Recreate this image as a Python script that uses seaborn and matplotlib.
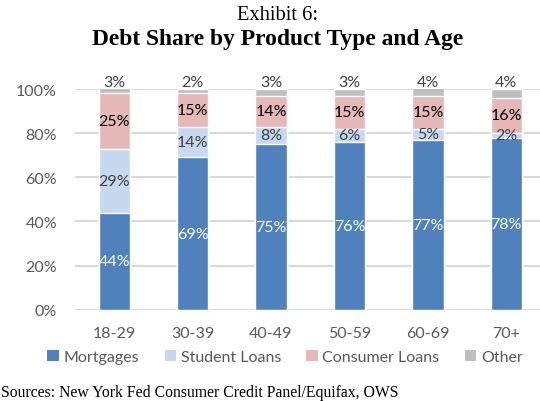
import matplotlib
matplotlib.use("Agg")
import matplotlib.pyplot as plt
import seaborn as sns
import numpy as np
import pandas as pd
from matplotlib.patches import Patch

# Debt shares (%) by age group
age_groups = ["18-29", "30-39", "40-49", "50-59", "60-69", "70+"]
mortgages = [44, 69, 75, 76, 77, 78]
student_loans = [29, 14, 8, 6, 5, 2]
consumer_loans = [25, 15, 14, 15, 15, 16]
other = [3, 2, 3, 3, 4, 4]

series_names = ["Mortgages", "Student Loans", "Consumer Loans", "Other"]
series_colors = ["#4F81BD", "#C6D9F1", "#E6B9B8", "#BFBFBF"]
label_colors = ["white", "#404040", "black", "#404040"]

sns.set_theme(style="white")
plt.rcParams["font.family"] = ["Lato", "DejaVu Sans"]

layers = np.array([mortgages, student_loans, consumer_loans, other], dtype=float)
tops = np.cumsum(layers, axis=0)
bottoms = tops - layers

fig = plt.figure(figsize=(5.4, 4.02), dpi=100)
ax = fig.add_axes([75 / 540, (402 - 310.7) / 402, (545.5 - 75) / 540, 220.7 / 402])

# stacked bars: draw cumulative heights from the top layer down
for i in range(3, -1, -1):
    df = pd.DataFrame({"age": age_groups, "share": tops[i]})
    sns.barplot(data=df, x="age", y="share", color=series_colors[i],
                saturation=1, width=0.4, ax=ax, zorder=2)

# value labels
for i in range(4):
    for j, age in enumerate(age_groups):
        val = layers[i, j]
        if i == 3:
            y = 100.2
            va = "bottom"
        else:
            y = bottoms[i, j] + val / 2
            va = "center"
        ax.text(j, y, f"{int(val)}%", ha="center", va=va, fontsize=11.5,
                color=label_colors[i], zorder=5)

ax.set_ylim(0, 100)
ax.set_xlim(-0.5, 5.5)
ax.set_yticks(range(0, 101, 20))
ax.set_yticklabels([f"{v}%" for v in range(0, 101, 20)])
ax.set_xlabel("")
ax.set_ylabel("")
ax.yaxis.grid(True, color="#D9D9D9", linewidth=1.5)
ax.set_axisbelow(True)
for s in ax.spines.values():
    s.set_visible(False)
ax.tick_params(axis="both", length=0, labelsize=11.5, labelcolor="#595959")
ax.tick_params(axis="y", pad=13)
ax.tick_params(axis="x", pad=12)
for b in ax.patches:
    b.set_clip_on(True)

handles = [Patch(facecolor=c, edgecolor="none") for c in series_colors]
fig.legend(handles, series_names, loc="center", bbox_to_anchor=(0.528, 1 - 358 / 402),
           ncol=4, frameon=False, fontsize=11.5, labelcolor="#595959",
           handlelength=0.7, handleheight=0.7, handletextpad=0.3, columnspacing=1.6,
           borderaxespad=0)

fig.text(0.514, 1 - 16 / 402, "Exhibit 6:", ha="center", va="center",
         family="Liberation Serif", fontsize=14.8, color="black")
fig.text(0.514, 1 - 40 / 402, "Debt Share by Product Type and Age", ha="center", va="center",
         family="Liberation Serif", fontweight="bold", fontsize=16.9, color="black")
fig.text(0.002, 1 - 393 / 402, "Sources: New York Fed Consumer Credit Panel/Equifax, OWS",
         ha="left", va="center", family="Liberation Serif", fontsize=11.3, color="black")

fig.savefig("out.png", dpi=100, facecolor="white")
